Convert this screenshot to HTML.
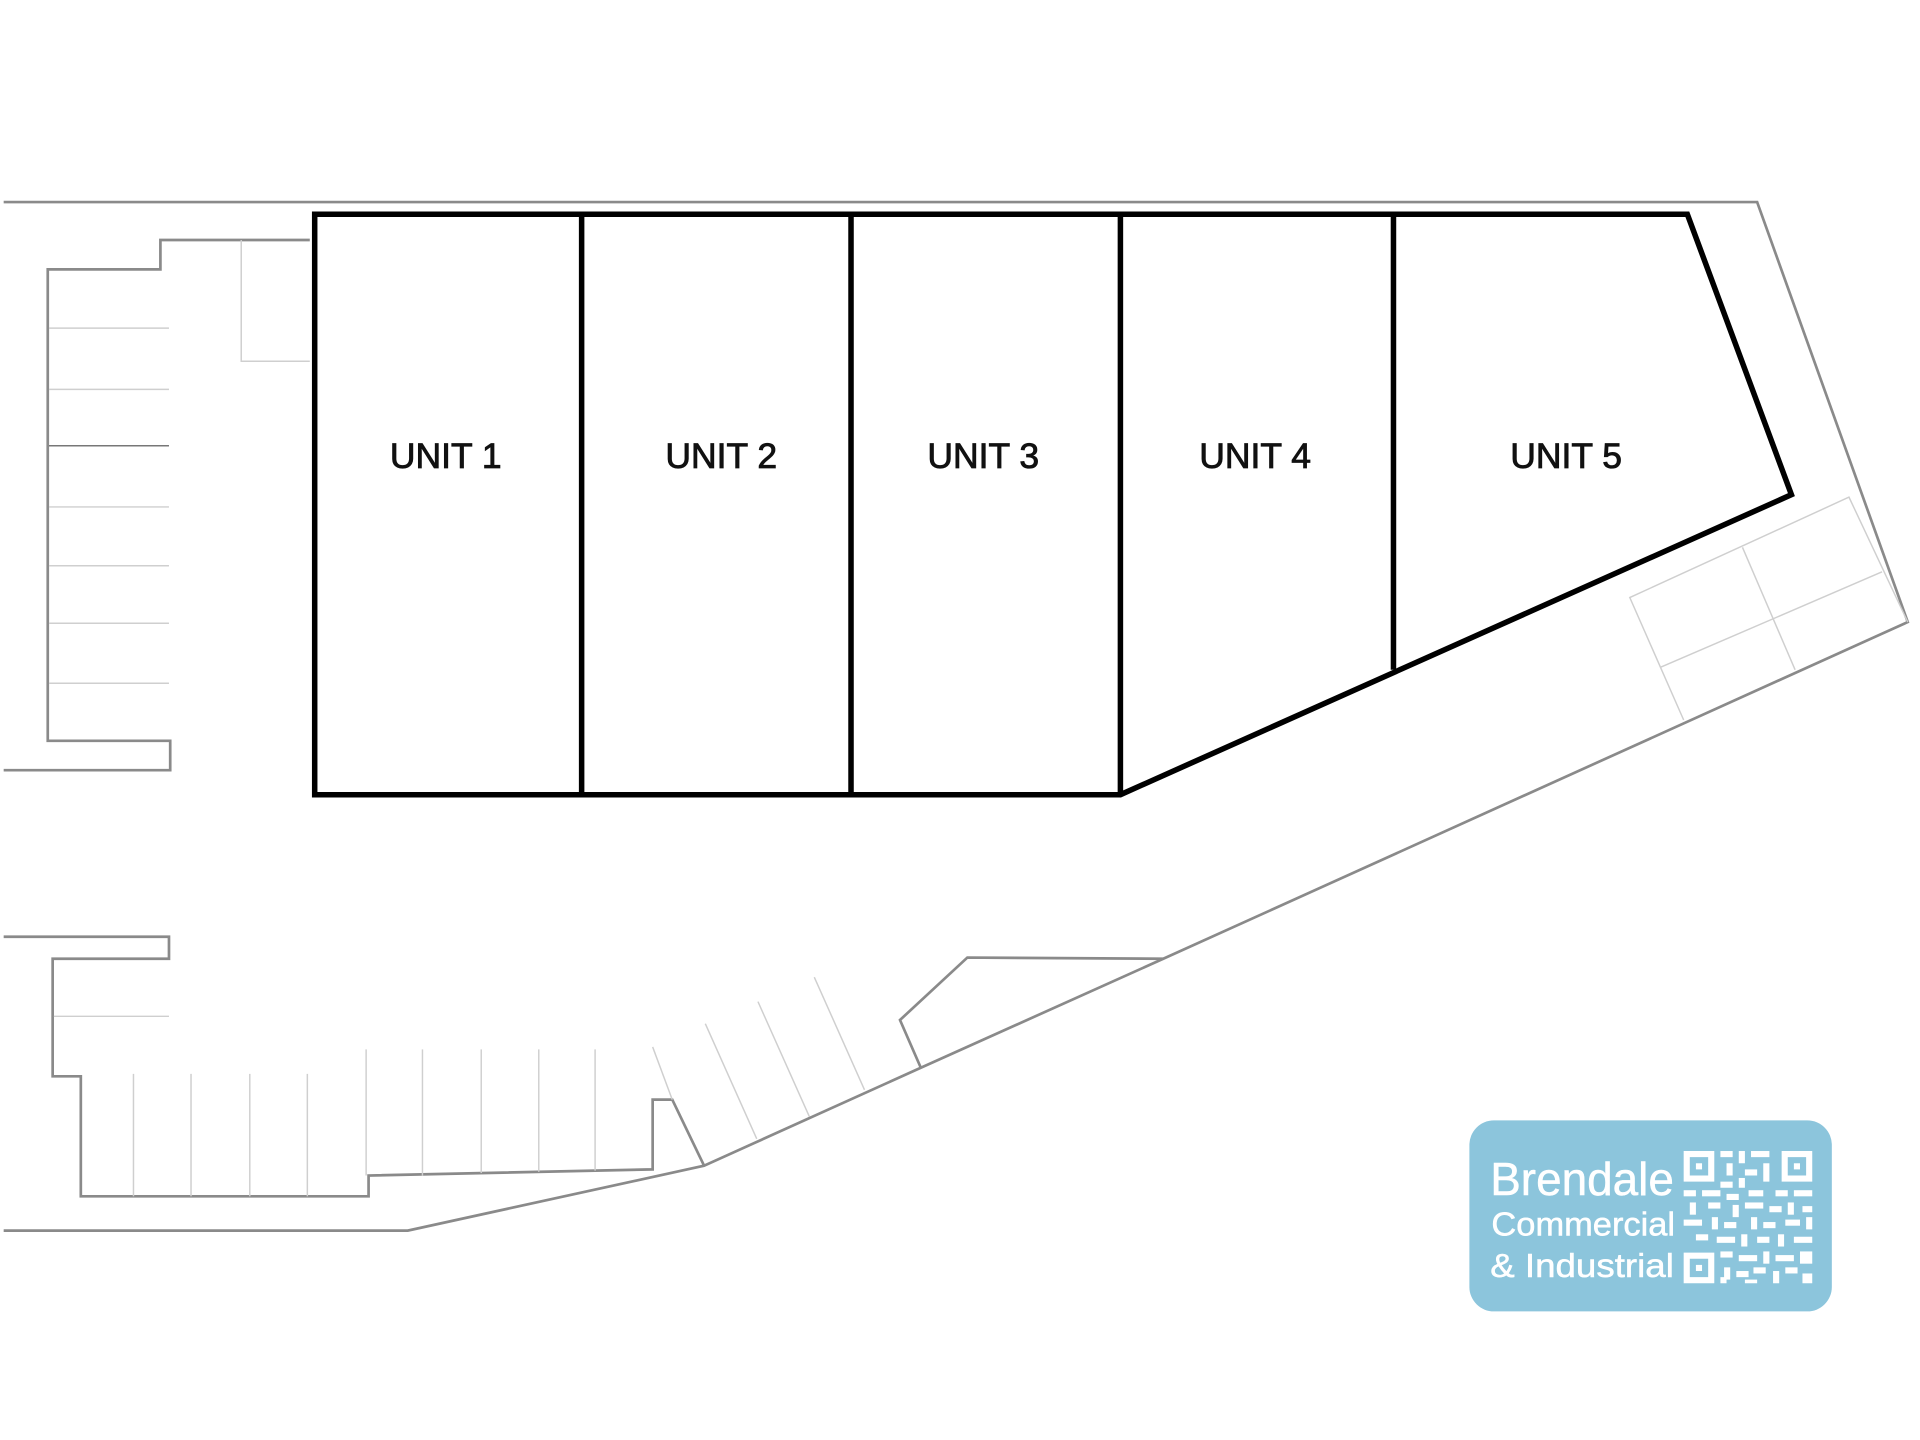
<!DOCTYPE html>
<html><head><meta charset="utf-8"><style>
html,body{margin:0;padding:0;background:#fff;}
svg{display:block;}
</style></head><body>
<svg width="1920" height="1440" viewBox="0 0 1568 1176" preserveAspectRatio="none" xmlns="http://www.w3.org/2000/svg">
<g fill="none" stroke="#8a8a8a" stroke-width="2.2">
<polyline points="3,165 1435,165 1558,508 950,783 752,872 575,952 333,1005 3,1005"/>
<polyline points="950,783 790,782 735,833 752,872"/>
<polyline points="253,196 131,196 131,220 39,220 39,605 139,605 139,629 3,629"/>
<polyline points="3,765 138,765 138,783 43,783 43,879 66,879 66,977 301,977 301,960 533,955 533,898 549,898 575,952"/>
</g>
<g stroke="#cfcfcf" stroke-width="1.2" fill="none">
<polyline points="197,196 197,295 253,295"/>
<line x1="40" y1="268" x2="138" y2="268"/>
<line x1="40" y1="318" x2="138" y2="318"/>
<line x1="40" y1="414" x2="138" y2="414"/>
<line x1="40" y1="462" x2="138" y2="462"/>
<line x1="40" y1="509" x2="138" y2="509"/>
<line x1="40" y1="558" x2="138" y2="558"/>
<line x1="44" y1="830" x2="138" y2="830"/>
<line x1="109" y1="877" x2="109" y2="977"/>
<line x1="156" y1="877" x2="156" y2="977"/>
<line x1="204" y1="877" x2="204" y2="977"/>
<line x1="251" y1="877" x2="251" y2="977"/>
<line x1="299" y1="857" x2="299" y2="960"/>
<line x1="345" y1="857" x2="345" y2="960"/>
<line x1="393" y1="857" x2="393" y2="958"/>
<line x1="440" y1="857" x2="440" y2="957"/>
<line x1="486" y1="857" x2="486" y2="956"/>
<line x1="533" y1="855" x2="549" y2="898"/>
<line x1="576" y1="836" x2="618" y2="930"/>
<line x1="619" y1="818" x2="661" y2="912"/>
<line x1="665" y1="798" x2="706" y2="890"/>
<polyline points="1375,588 1331,488 1510,406 1558,508"/>
<line x1="1423" y1="447" x2="1466" y2="547"/>
<line x1="1356" y1="545" x2="1537" y2="467"/>
</g>
<line x1="40" y1="364" x2="138" y2="364" stroke="#777" stroke-width="1.2"/>
<g fill="none" stroke="#000" stroke-width="4.5" stroke-linejoin="miter">
<polygon points="257,175 1378,175 1463,404 915,649 257,649"/>
<line x1="475" y1="175" x2="475" y2="649"/>
<line x1="695" y1="175" x2="695" y2="649"/>
<line x1="915" y1="175" x2="915" y2="649"/>
<line x1="1138" y1="175" x2="1138" y2="547"/>
</g>
<g font-family="Liberation Sans, Arial, sans-serif" font-size="29" fill="#111" stroke="#111" stroke-width="0.7" text-anchor="middle">
<text x="364" y="382">UNIT 1</text>
<text x="589" y="382">UNIT 2</text>
<text x="803" y="382">UNIT 3</text>
<text x="1025" y="382">UNIT 4</text>
<text x="1279" y="382">UNIT 5</text>
</g>
<rect x="1200" y="915" width="296" height="156" rx="20" fill="#8cc5dc"/>
<g font-family="Liberation Sans Narrow, Liberation Sans, sans-serif" fill="#fff" stroke="#fff" stroke-width="0.4">
<text x="1217" y="976" font-size="38" textLength="150" lengthAdjust="spacingAndGlyphs">Brendale</text>
<text x="1218" y="1009" font-size="27" textLength="150" lengthAdjust="spacingAndGlyphs">Commercial</text>
<text x="1217" y="1043" font-size="27" textLength="150" lengthAdjust="spacingAndGlyphs">&amp; Industrial</text>
</g>
<g fill="#fff">
<path fill-rule="evenodd" d="M1375,940h25v25h-25z M1380,945v15h15v-15z"/>
<rect x="1385" y="950" width="5" height="5"/>
<path fill-rule="evenodd" d="M1455,940h25v25h-25z M1460,945v15h15v-15z"/>
<rect x="1465" y="950" width="5" height="5"/>
<path fill-rule="evenodd" d="M1375,1023h25v25h-25z M1380,1028v15h15v-15z"/>
<rect x="1385" y="1033" width="5" height="5"/>
<rect x="1405" y="940" width="10" height="5"/><rect x="1420" y="940" width="5" height="10"/><rect x="1430" y="940" width="15" height="5"/>
<rect x="1410" y="950" width="5" height="10"/><rect x="1425" y="955" width="10" height="5"/><rect x="1440" y="950" width="5" height="15"/>
<rect x="1405" y="965" width="10" height="5"/><rect x="1420" y="962" width="5" height="8"/>
<rect x="1375" y="972" width="10" height="5"/><rect x="1390" y="972" width="15" height="5"/><rect x="1410" y="975" width="10" height="5"/><rect x="1428" y="972" width="12" height="5"/><rect x="1450" y="972" width="10" height="5"/><rect x="1465" y="972" width="15" height="5"/>
<rect x="1380" y="982" width="5" height="10"/><rect x="1395" y="982" width="10" height="5"/><rect x="1415" y="984" width="5" height="10"/><rect x="1425" y="982" width="15" height="5"/><rect x="1445" y="985" width="10" height="5"/><rect x="1460" y="982" width="5" height="10"/><rect x="1472" y="985" width="8" height="5"/>
<rect x="1375" y="996" width="15" height="5"/><rect x="1398" y="994" width="5" height="10"/><rect x="1408" y="998" width="10" height="5"/><rect x="1430" y="994" width="5" height="10"/><rect x="1440" y="998" width="10" height="5"/><rect x="1458" y="996" width="12" height="5"/><rect x="1475" y="994" width="5" height="10"/>
<rect x="1385" y="1008" width="10" height="5"/><rect x="1402" y="1010" width="15" height="5"/><rect x="1422" y="1008" width="5" height="10"/><rect x="1435" y="1010" width="10" height="5"/><rect x="1452" y="1008" width="5" height="10"/><rect x="1465" y="1010" width="15" height="5"/>
<rect x="1405" y="1022" width="10" height="5"/><rect x="1420" y="1025" width="15" height="5"/><rect x="1440" y="1022" width="5" height="10"/><rect x="1450" y="1025" width="15" height="5"/><rect x="1470" y="1022" width="10" height="10"/>
<rect x="1408" y="1035" width="5" height="10"/><rect x="1418" y="1038" width="10" height="5"/><rect x="1432" y="1035" width="10" height="5"/><rect x="1448" y="1038" width="5" height="10"/><rect x="1458" y="1035" width="10" height="5"/><rect x="1472" y="1040" width="8" height="8"/>
<rect x="1405" y="1043" width="5" height="5"/><rect x="1425" y="1045" width="10" height="3"/>
</g>
</svg>
</body></html>
